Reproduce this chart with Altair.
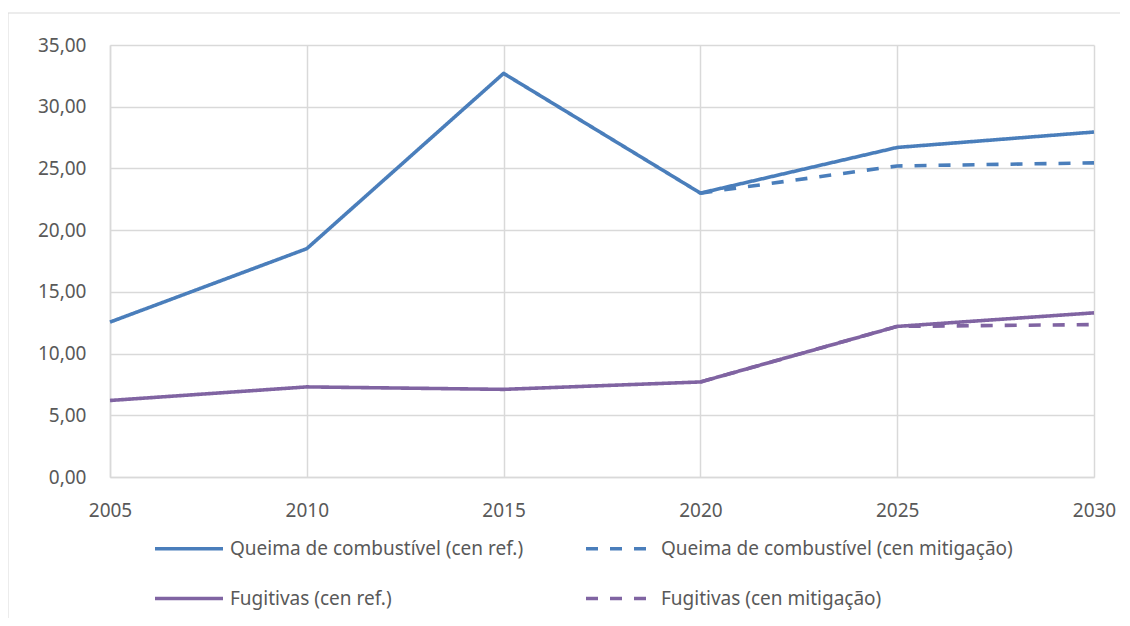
import altair as alt
import pandas as pd

years = [2005, 2010, 2015, 2020, 2025, 2030]
queima_ref = [12.55, 18.5, 32.7, 23.0, 26.7, 27.95]
queima_mit_years = [2020, 2025, 2030]
queima_mit = [23.0, 25.2, 25.45]
fug_ref = [6.2, 7.3, 7.1, 7.7, 12.2, 13.3]
fug_mit_years = [2020, 2025, 2030]
fug_mit = [7.7, 12.2, 12.35]

# legend is laid out column by column: first column = "cen ref.", second = "cen mitigação"
series = [
    "Queima de combustível (cen ref.)",
    "Fugitivas (cen ref.)",
    "Queima de combustível (cen mitigação)",
    "Fugitivas (cen mitigação)",
]
colors = ["#4a7ebb", "#8064a2", "#4a7ebb", "#8064a2"]
dashes = [[1, 0], [1, 0], [12, 12], [12, 12]]
draw_order = [2, 3, 0, 1]

rows = []
for s, xs, ys in [
    (series[0], years, queima_ref),
    (series[2], queima_mit_years, queima_mit),
    (series[1], years, fug_ref),
    (series[3], fug_mit_years, fug_mit),
]:
    for x, y in zip(xs, ys):
        rows.append({"ano": x, "valor": y, "serie": s, "ordem": draw_order[series.index(s)]})
df = pd.DataFrame(rows)

FONT = "Noto Sans"
GREY = "#595959"
GRID = "#d9d9d9"
FS = 19


def legend():
    return alt.Legend(
        title=None,
        orient="none",
        legendX=43,
        legendY=493,
        columns=2,
        columnPadding=55,
        rowPadding=29,
        symbolType="M-1,0H7",
        symbolSize=289,
        symbolStrokeWidth=3.5,
        labelOffset=56,
        labelFont=FONT,
        labelFontSize=FS,
        labelColor=GREY,
        labelLimit=0,
        padding=0,
    )


lines = alt.Chart(df).mark_line(strokeWidth=3.6, strokeCap="butt", strokeJoin="round").encode(
    x=alt.X(
        "ano:Q",
        scale=alt.Scale(domain=[2005, 2030], nice=False, zero=False),
        axis=alt.Axis(
            values=years,
            format="d",
            title=None,
            labelFlush=False,
            labelPadding=24,
            labelFont=FONT,
            labelFontSize=FS,
            labelColor=GREY,
            ticks=False,
            gridColor=GRID,
            gridWidth=1.5,
            domainColor=GRID,
            domainWidth=1.5,
        ),
    ),
    y=alt.Y(
        "valor:Q",
        scale=alt.Scale(domain=[0, 35], nice=False),
        axis=alt.Axis(
            values=[0, 5, 10, 15, 20, 25, 30, 35],
            labelExpr="replace(format(datum.value, '.2f'), '.', ',')",
            title=None,
            labelPadding=24,
            labelFont=FONT,
            labelFontSize=FS,
            labelColor=GREY,
            ticks=False,
            gridColor=GRID,
            gridWidth=1.5,
            domainColor=GRID,
            domainWidth=1.5,
        ),
    ),
    color=alt.Color("serie:N", scale=alt.Scale(domain=series, range=colors), legend=legend()),
    strokeDash=alt.StrokeDash("serie:N", scale=alt.Scale(domain=series, range=dashes), legend=legend()),
    order=alt.Order("ordem:Q"),
)

frame_top = alt.Chart(pd.DataFrame({"k": [0]})).mark_rule(color=GRID, strokeWidth=1, clip=False).encode(
    x=alt.value(-102), x2=alt.value(1020), y=alt.value(-32)
)
frame_left = alt.Chart(pd.DataFrame({"k": [0]})).mark_rule(color=GRID, strokeWidth=1, clip=False).encode(
    x=alt.value(-102), y=alt.value(-32), y2=alt.value(600)
)

chart = alt.layer(frame_top, frame_left, lines).properties(
    width=984,
    height=432,
    padding={"left": 102, "top": 37, "right": 26, "bottom": 141},
    autosize=alt.AutoSizeParams(type="none"),
    background="white",
).configure_view(stroke=None)

chart.save("out.html", embed_options={"renderer": "svg", "actions": False})
